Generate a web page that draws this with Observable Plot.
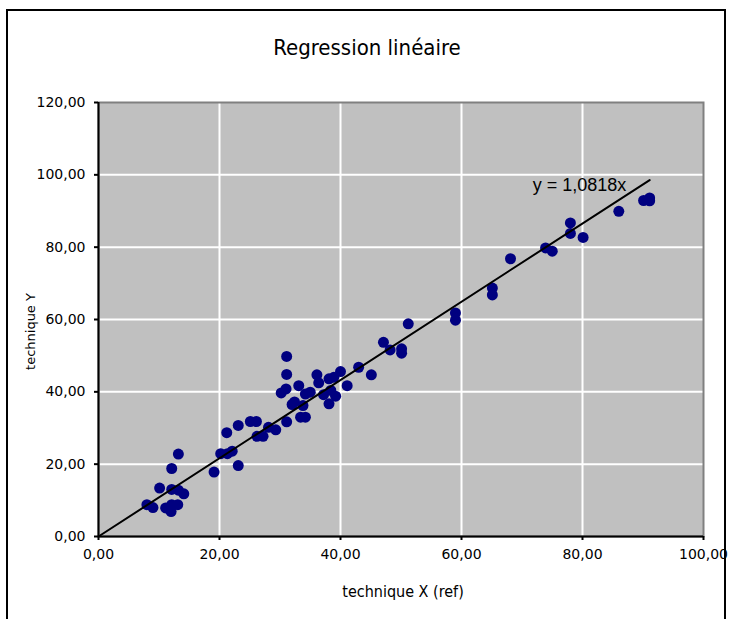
<!DOCTYPE html>
<html>
<head>
<meta charset="utf-8">
<script src="https://cdn.jsdelivr.net/npm/d3@7"></script>
<script src="https://cdn.jsdelivr.net/npm/@observablehq/plot@0.6"></script>
<style>
  html, body { margin: 0; padding: 0; background: #fff; overflow: hidden; }
  #wrap { position: relative; width: 734px; height: 619px; }
  #border { position: absolute; left: 6px; top: 9px; width: 720px; height: 700px; border: 2px solid #000; box-sizing: border-box; }
  #chart { position: absolute; left: 0; top: 0; }
</style>
</head>
<body>
<div id="wrap"><div id="border"></div><div id="chart"></div></div>
<script>
const title = "Regression linéaire";
const xLabel = "technique X (ref)";
const yLabel = "technique Y";
const xTicks = [0, 20, 40, 60, 80, 100];
const yTicks = [0, 20, 40, 60, 80, 100, 120];
const slope = 1.0818;
const eqLabel = "y = 1,0818x";
const lineXs = [0, 91.1];

const xs = [8.0, 9.0, 11.1, 12.1, 13.1, 12.0, 10.1, 12.1, 13.2, 14.1, 12.1, 13.2,
  19.1, 20.2, 21.3, 22.1, 23.1, 21.2, 23.1, 25.1, 26.1, 26.2, 27.2, 28.1, 29.3,
  31.1, 32.0, 32.4, 33.8, 33.4, 34.2, 31.1, 31.1, 30.2, 31.0, 33.1, 34.2, 35.0,
  36.1, 36.4, 37.2, 38.1, 38.9, 40.0, 38.4, 39.2, 38.1, 41.1, 43.0, 45.1,
  47.1, 48.2, 50.1, 50.1, 51.2, 59.0, 59.0, 65.1, 65.1, 68.1, 73.9, 75.0,
  78.0, 78.0, 80.1, 86.0, 90.1, 91.1, 91.1];
const ys = [8.8, 8.0, 7.9, 8.8, 8.8, 6.9, 13.4, 13.0, 12.8, 11.8, 18.8, 22.8,
  17.8, 22.9, 22.9, 23.6, 19.6, 28.7, 30.7, 31.8, 31.8, 27.7, 27.7, 30.2, 29.5,
  31.7, 36.5, 37.2, 36.2, 33.0, 33.0, 49.8, 44.8, 39.7, 40.8, 41.7, 39.4, 39.9,
  44.7, 42.5, 39.2, 43.6, 44.0, 45.6, 40.4, 38.8, 36.7, 41.7, 46.8, 44.7,
  53.7, 51.6, 51.9, 50.7, 58.8, 61.8, 59.8, 68.7, 66.8, 76.8, 79.8, 78.9,
  86.7, 83.8, 82.7, 89.9, 92.9, 93.6, 92.8];

const points = xs.map((x, i) => ({x, y: ys[i]}));
const fitLine = lineXs.map(x => ({x, y: slope * x}));
const fmt = d => d.toFixed(2).replace(".", ",");

const chart = Plot.plot({
  width: 734,
  height: 619,
  marginLeft: 98,
  marginRight: 31,
  marginTop: 102,
  marginBottom: 83,
  style: {fontFamily: "DejaVu Sans", fontSize: "14px", background: "transparent", color: "#000"},
  x: {domain: [0, 100]},
  y: {domain: [0, 120]},
  marks: [
    Plot.frame({fill: "#c0c0c0", stroke: null}),
    Plot.gridX({ticks: xTicks.slice(1, -1), stroke: "#fff", strokeOpacity: 1, strokeWidth: 2}),
    Plot.gridY({ticks: yTicks.slice(1, -1), stroke: "#fff", strokeOpacity: 1, strokeWidth: 2}),
    Plot.frame({stroke: "#808080", strokeWidth: 2}),
    Plot.dot(points, {x: "x", y: "y", r: 5.5, fill: "#000080", stroke: null}),
    Plot.line(fitLine, {x: "x", y: "y", stroke: "#000", strokeWidth: 2}),
    Plot.ruleX([0], {stroke: "#000", strokeWidth: 2}),
    Plot.ruleY([0], {stroke: "#000", strokeWidth: 2}),
    Plot.axisX({ticks: xTicks, tickFormat: fmt, tickSize: 4, tickPadding: 9, strokeWidth: 2, label: null, fontSize: 14}),
    Plot.axisY({ticks: yTicks, tickFormat: fmt, tickSize: 4, tickPadding: 9, strokeWidth: 2, label: null, fontSize: 14}),
    Plot.text([eqLabel], {x: 79.5, y: 97.2, text: d => d, fontFamily: "Liberation Sans", fontSize: 18, fill: "#000"}),
    Plot.text([title], {frameAnchor: "top", dx: -34, dy: -55, lineAnchor: "middle", textAnchor: "middle", text: d => d, fontFamily: "DejaVu Sans Condensed", fontSize: 22, fill: "#000"}),
    Plot.text([xLabel], {frameAnchor: "bottom", dx: 2, dy: 55, lineAnchor: "middle", textAnchor: "middle", text: d => d, fontFamily: "DejaVu Sans Condensed", fontSize: 16, fill: "#000"}),
    Plot.text([yLabel], {frameAnchor: "left", dx: -68, dy: 12, rotate: -90, lineAnchor: "middle", textAnchor: "middle", text: d => d, fontFamily: "DejaVu Sans", fontSize: 13, fill: "#000"})
  ]
});
document.getElementById("chart").append(chart);
</script>
</body>
</html>
